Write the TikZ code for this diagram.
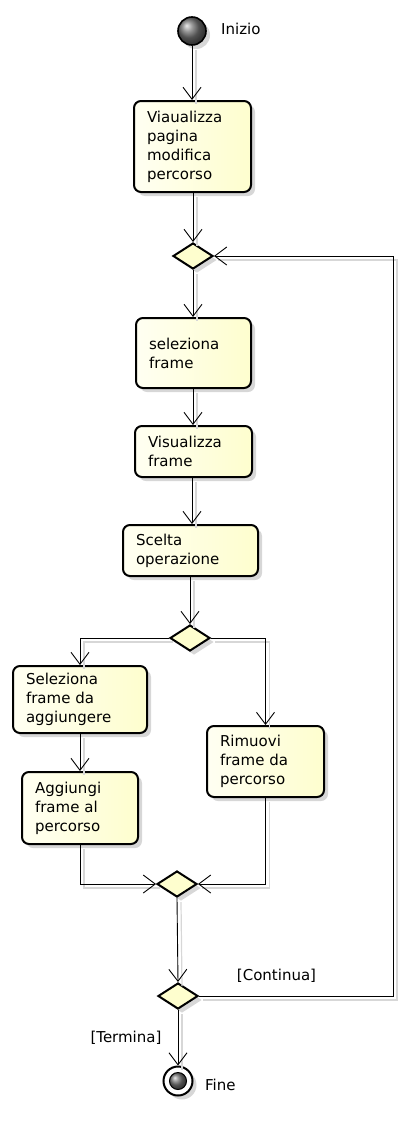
\documentclass[tikz,border=0pt]{standalone}
\usepackage{fontspec}
\setmainfont{DejaVu Sans}
\usetikzlibrary{shapes.geometric,arrows.meta,shadows,calc}

\definecolor{attfill}{RGB}{254,254,206}
\definecolor{attlight}{RGB}{255,255,242}
\definecolor{ombra}{RGB}{215,215,215}

\tikzset{
  ombraact/.style={drop shadow={shadow xshift=4pt, shadow yshift=-4pt, fill=ombra, opacity=1}},
  attivita/.style={rectangle, draw, line width=2pt, rounded corners=7pt,
    left color=attlight, right color=attfill, align=left, inner xsep=13pt, inner ysep=0pt,
    font=\fontsize{15}{19}\selectfont, ombraact},
  decisione/.style={diamond, draw, line width=2pt, fill=attfill, minimum width=40pt,
    minimum height=26pt, inner sep=0pt, ombraact},
  flusso/.style={-{Straight Barb[length=12pt,width=18pt]}, line width=0.9pt,
    preaction={draw=ombra, -, line width=1.2pt, transform canvas={xshift=4pt, yshift=-4pt}}},
  etichetta/.style={font=\fontsize{15}{19}\selectfont, inner sep=0pt},
}

\begin{document}
\begin{tikzpicture}[x=1pt, y=-1pt]
  \useasboundingbox (0,0) rectangle (413,1140);

  % Inizio
  \node[circle, draw, line width=1.6pt, shading=ball, ball color=black!55, minimum size=28pt,
    inner sep=0pt, ombraact] (inizio) at (192,31) {};
  \node[etichetta, anchor=west] (inizioTxt) at (221,29) {Inizio};

  % Attivita
  \node[attivita, minimum width=117pt, minimum height=91pt, text width=91pt] (visPag) at (192.5,146.5)
    {Viaualizza\\pagina\\modifica\\percorso};
  \node[decisione] (dec1) at (193,256) {};
  \node[attivita, minimum width=115pt, minimum height=70pt, text width=89pt] (selFrame) at (193.5,353)
    {seleziona\\frame};
  \node[attivita, minimum width=117pt, minimum height=51pt, text width=91pt] (visFrame) at (193.5,451.5)
    {Visualizza\\frame};
  \node[attivita, minimum width=135pt, minimum height=51pt, text width=109pt] (scelta) at (190.5,550.5)
    {Scelta\\operazione};
  \node[decisione] (dec2) at (190,638) {};

  % Rami
  \node[attivita, minimum width=134pt, minimum height=67pt, text width=108pt] (selAgg) at (80,699.5)
    {Seleziona\\frame da\\aggiungere};
  \node[attivita, minimum width=116pt, minimum height=72pt, text width=90pt] (aggiungi) at (80,808)
    {Aggiungi\\frame al\\percorso};
  \node[attivita, minimum width=117pt, minimum height=71pt, text width=91pt] (rimuovi) at (265.5,761.5)
    {Rimuovi\\frame da\\percorso};
  \node[decisione] (merge) at (177,884) {};
  \node[decisione] (dec4) at (178,996) {};

  % Fine
  \node[circle, draw, line width=2pt, fill=white, minimum size=29pt, inner sep=0pt, ombraact] (fine) at (178,1081) {};
  \node[circle, draw, line width=1pt, shading=ball, ball color=black!55, minimum size=17pt,
    inner sep=0pt] (fineIn) at (fine) {};
  \node[etichetta, anchor=west] (fineTxt) at (205,1085) {Fine};

  \coordinate (giro) at (393,996);

  % Flussi
  \draw[flusso] (inizio) -- (inizio |- visPag.north);
  \draw[flusso] (visPag.south -| dec1) -- (dec1.north);
  \draw[flusso] (dec1.south) -- (dec1 |- selFrame.north);
  \draw[flusso] (selFrame.south -| dec1) -- (dec1 |- visFrame.north);
  \draw[flusso] (visFrame.south -| 192,0) -- (192,0 |- scelta.north);
  \draw[flusso] (scelta.south -| dec2) -- (dec2.north);
  \draw[flusso] (dec2.west) -| (selAgg.north);
  \draw[flusso] (dec2.east) -| (rimuovi.north);
  \draw[flusso] (selAgg.south) -- (aggiungi.north);
  \draw[flusso] (aggiungi.south) |- (merge.west);
  \draw[flusso] (rimuovi.south) |- (merge.east);
  \draw[flusso] (merge.south) -- (dec4.north);
  \draw[flusso] (dec4.east) -- (giro) |- (dec1.east);
  \draw[flusso] (dec4.south) -- (fine.north);

  % Guardie
  \node[etichetta] (continua) at (276.5,976) {[Continua]};
  \node[etichetta] (termina) at (126,1038) {[Termina]};
\end{tikzpicture}
\end{document}
